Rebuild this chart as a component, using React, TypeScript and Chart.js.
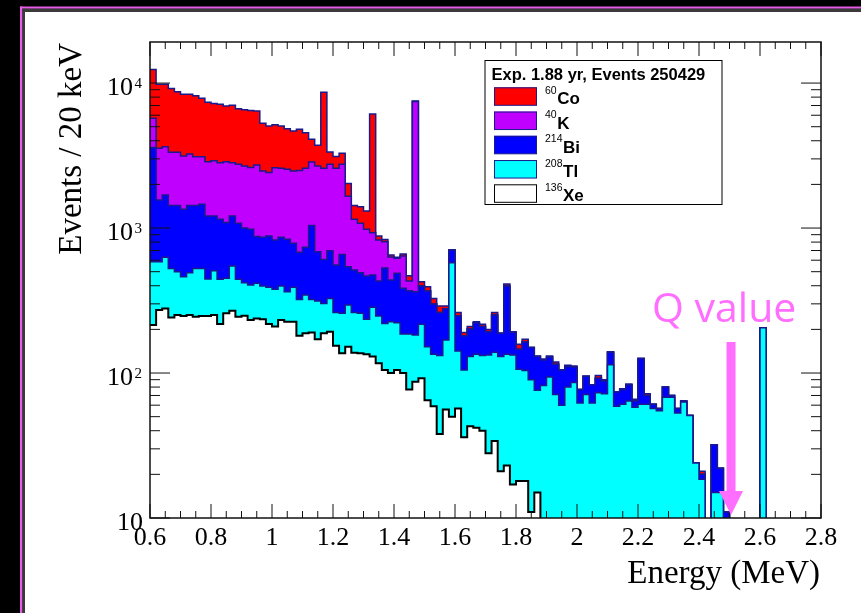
import React, { useEffect, useRef } from "react";
import { Chart, registerables } from "chart.js";

Chart.register(...registerables);

// ---------- axis ranges ----------
const E_MIN = 0.6;
const E_MAX = 2.8;
const BIN_WIDTH = 0.02;
const Y_MIN = 10;
const Y_MAX = 19200;

const xTickValues = [0.6, 0.8, 1.0, 1.2, 1.4, 1.6, 1.8, 2.0, 2.2, 2.4, 2.6, 2.8];
const xTickLabels = ["0.6", "0.8", "1", "1.2", "1.4", "1.6", "1.8", "2", "2.2", "2.4", "2.6", "2.8"];
const yDecades = [1, 2, 3, 4];
const xTitle = "Energy (MeV)";
const yTitle = "Events / 20 keV";

// ---------- legend ----------
const legendTitle = "Exp. 1.88 yr, Events 250429";
const legendMass = ["60", "40", "214", "208", "136"];
const legendElement = ["Co", "K", "Bi", "Tl", "Xe"];
const legendFill = ["#ff0000", "#c000ff", "#0000ff", "#00ffff", "#ffffff"];
const legendLine = ["#1a1a8c", "#1a1a8c", "#1a1a8c", "#1a1a8c", "#000000"];

const qLabel = "Q value";
const qArrowEnergy = 2.505; // MeV, where the arrow is drawn

// ---------- stacked histogram tops (events / 20 keV, bins from 0.6 MeV) ----------
// 60Co on top of 40K on top of 214Bi on top of 208Tl on top of 136Xe
const stackCo = [
  12430, 9800, 9800, 9190, 8710, 8360, 8360, 8170, 7850, 7360,
  7240, 7130, 6940, 7020, 6650, 6550, 6480, 6410, 5280, 5050,
  5160, 5050, 4840, 4670, 4800, 4540, 4090, 3720, 8630, 3340,
  3120, 3280, 2030, 1430, 1400, 1310, 6110, 881, 833, 651,
  628, 662, 469, 7520, 426, 394, 327, 290, 290, 705,
  261, 190, 209, 226, 217, 200, 261, 188, 411, 193,
  158, 171, 150, 131, 125, 131, 119, 105, 113, 112,
  77, 95, 83, 96, 90, 140, 74, 78, 84, 66,
  126, 72, 61, 57, 80, 70, 57, 64, 51, 24,
  21, 0, 32, 22, 11, 0, 0, 0, 0, 0,
  205, 0, 0, 0, 0, 0, 0, 0, 0, 0,
];
const stackK = [
  5710, 3545, 3640, 3330, 3330, 3140, 3240, 3100, 3100, 2870,
  2910, 2820, 2870, 2820, 2760, 2680, 2620, 2720, 2470, 2420,
  2610, 2580, 2540, 2470, 2490, 2580, 2850, 2680, 2580, 2760,
  2590, 2750, 1660, 1150, 1080, 980, 928, 826, 804, 631,
  618, 641, 431, 7450, 398, 368, 299, 261, 278, 705,
  248, 181, 201, 222, 209, 193, 251, 188, 398, 191,
  146, 164, 150, 130, 123, 129, 115, 105, 111, 110,
  77, 95, 83, 92, 88, 139, 74, 77, 83, 64,
  126, 70, 61, 57, 80, 70, 57, 64, 51, 24,
  20, 0, 32, 22, 11, 0, 0, 0, 0, 0,
  205, 0, 0, 0, 0, 0, 0, 0, 0, 0,
];
const stackBi = [
  3600, 1560, 1690, 1430, 1430, 1350, 1430, 1430, 1460, 1210,
  1210, 1150, 1090, 1210, 1080, 1000, 980, 874, 863, 881,
  826, 863, 836, 784, 680, 736, 1040, 686, 608, 697,
  556, 658, 541, 513, 492, 467, 474, 431, 530, 438,
  487, 384, 370, 364, 398, 368, 299, 261, 278, 705,
  248, 181, 201, 222, 209, 193, 251, 188, 398, 191,
  146, 164, 150, 130, 123, 129, 115, 105, 111, 110,
  77, 95, 83, 92, 88, 139, 74, 77, 83, 64,
  126, 70, 61, 57, 80, 70, 57, 64, 51, 24,
  20, 0, 32, 22, 11, 0, 0, 0, 0, 0,
  205, 0, 0, 0, 0, 0, 0, 0, 0, 0,
];
const stackTl = [
  586, 586, 628, 527, 499, 462, 492, 527, 527, 445,
  508, 443, 450, 547, 443, 420, 405, 416, 398, 390,
  378, 398, 364, 390, 322, 345, 322, 314, 302, 327,
  261, 258, 294, 261, 258, 235, 284, 247, 220, 226,
  222, 186, 186, 183, 217, 152, 135, 132, 169, 576,
  142, 105, 130, 135, 132, 133, 139, 130, 135, 133,
  106, 104, 90, 76, 82, 94, 71, 60, 80, 86,
  62, 71, 62, 73, 72, 114, 59, 61, 64, 58,
  61, 61, 57, 55, 68, 68, 53, 63, 51, 24,
  18.5, 0, 15, 15, 0, 0, 0, 0, 0, 0,
  205, 0, 0, 0, 0, 0, 0, 0, 0, 0,
];
const stackXe = [
  214, 272, 279, 242, 251, 247, 251, 244, 247, 247,
  251, 218, 258, 269, 244, 248, 232, 238, 235, 218,
  209, 232, 226, 226, 181, 188, 190, 171, 188, 193,
  154, 137, 152, 138, 137, 135, 130, 117, 105, 100,
  105, 100, 77, 87, 92, 65, 59, 38, 56, 50,
  57, 36, 43, 42, 40, 28, 34, 21, 23, 17,
  18, 18, 11, 15, 0, 0, 0, 0, 0, 0,
  0, 0, 0, 0, 0, 0, 0, 0, 0, 0,
  0, 0, 0, 0, 0, 0, 0, 0, 0, 0,
  0, 0, 0, 0, 0, 0, 0, 0, 0, 0,
  0, 0, 0, 0, 0, 0, 0, 0, 0, 0,
];

// empty bins are drawn below the axis floor (hidden by clipping)
const FLOOR = 1;

function toSteps(values: number[]) {
  const pts = values.map((v, i) => ({ x: E_MIN + i * BIN_WIDTH, y: v > 0 ? v : FLOOR }));
  const last = values[values.length - 1];
  pts.push({ x: E_MIN + values.length * BIN_WIDTH, y: last > 0 ? last : FLOOR });
  return pts;
}

const SERIF = '"Liberation Serif", "Times New Roman", serif';
const SANS = '"Liberation Sans", Arial, sans-serif';
const PINK = "#ff6eff";

const decorPlugin = {
  id: "decor",
  beforeDraw(chart: any) {
    const ctx = chart.ctx as CanvasRenderingContext2D;
    const W = chart.width;
    const H = chart.height;
    ctx.save();
    ctx.fillStyle = "#000";
    ctx.fillRect(0, 0, W, H);
    ctx.fillStyle = "#e65ce6";
    ctx.fillRect(20, 6.5, W - 20, 2.2);
    ctx.fillRect(20, 6.5, 2.5, H);
    ctx.fillStyle = "#3a3a3a";
    ctx.fillRect(22.5, 8.7, W, 3.3);
    ctx.fillRect(22.5, 8.7, 2.5, H);
    ctx.fillStyle = "#fff";
    ctx.fillRect(25, 12, W - 25, H - 12);
    ctx.restore();
  },
  afterDatasetsDraw(chart: any) {
    const ctx = chart.ctx as CanvasRenderingContext2D;
    const { left, right, top, bottom } = chart.chartArea;
    const xs = chart.scales.x;
    const ys = chart.scales.y;
    ctx.save();

    // frame
    ctx.strokeStyle = "#111";
    ctx.lineWidth = 1.5;
    ctx.strokeRect(left, top, right - left, bottom - top);

    // x ticks (major every 0.2, minor every 0.05)
    ctx.lineWidth = 1;
    ctx.beginPath();
    const nMinor = Math.round((E_MAX - E_MIN) / 0.05);
    for (let k = 0; k <= nMinor; k++) {
      const px = xs.getPixelForValue(E_MIN + k * 0.05);
      const len = k % 4 === 0 ? 14 : 7;
      ctx.moveTo(px, bottom);
      ctx.lineTo(px, bottom - len);
      ctx.moveTo(px, top);
      ctx.lineTo(px, top + len);
    }
    // y ticks (log)
    for (const d of yDecades) {
      for (let m = 1; m <= 9; m++) {
        const v = m * Math.pow(10, d);
        if (v > Y_MAX) break;
        const py = ys.getPixelForValue(v);
        const len = m === 1 ? 20 : 10;
        ctx.moveTo(left, py);
        ctx.lineTo(left + len, py);
        ctx.moveTo(right, py);
        ctx.lineTo(right - len, py);
      }
    }
    ctx.stroke();

    // x tick labels
    ctx.fillStyle = "#000";
    ctx.font = `26px ${SERIF}`;
    ctx.textAlign = "center";
    ctx.textBaseline = "alphabetic";
    xTickValues.forEach((v, i) => {
      ctx.fillText(xTickLabels[i], xs.getPixelForValue(v), bottom + 27);
    });

    // y tick labels 10^n
    yDecades.forEach((d) => {
      const py = ys.getPixelForValue(Math.pow(10, d));
      ctx.textAlign = "right";
      ctx.font = `26px ${SERIF}`;
      if (d === 1) {
        ctx.fillText("10", 143, py + 12);
      } else {
        ctx.fillText("10", 133, py + 12);
        ctx.textAlign = "left";
        ctx.font = `15px ${SERIF}`;
        ctx.fillText(String(d), 134.5, py + 4.5);
      }
    });

    // axis titles
    ctx.font = `33px ${SERIF}`;
    ctx.textAlign = "right";
    ctx.fillText(xTitle, right - 1, 583);
    ctx.save();
    ctx.translate(81, top + 1);
    ctx.rotate(-Math.PI / 2);
    ctx.textAlign = "right";
    ctx.fillText(yTitle, 0, 0);
    ctx.restore();

    // legend
    const lx = 485;
    const ly = 60.5;
    const lw = 237;
    const lh = 144;
    ctx.fillStyle = "#fff";
    ctx.fillRect(lx, ly, lw, lh);
    ctx.strokeStyle = "#000";
    ctx.lineWidth = 1;
    ctx.strokeRect(lx, ly, lw, lh);
    ctx.fillStyle = "#000";
    ctx.font = `bold 16.5px ${SANS}`;
    ctx.textAlign = "left";
    ctx.fillText(legendTitle, 491.5, 80);
    legendElement.forEach((el, i) => {
      const ry = 87.3 + i * 24.25;
      ctx.fillStyle = legendFill[i];
      ctx.fillRect(494, ry, 43, 18);
      ctx.strokeStyle = legendLine[i];
      ctx.lineWidth = 1;
      ctx.strokeRect(494.5, ry + 0.5, 42, 17.5);
      ctx.fillStyle = "#000";
      ctx.font = `10.5px ${SANS}`;
      ctx.fillText(legendMass[i], 545, ry + 6.5);
      const w = ctx.measureText(legendMass[i]).width;
      ctx.font = `bold 17px ${SANS}`;
      ctx.fillText(el, 545 + w + 0.5, ry + 17);
    });

    // Q value annotation
    const qx = xs.getPixelForValue(qArrowEnergy);
    ctx.fillStyle = PINK;
    ctx.font = `41px "Open Sans", ${SANS}`;
    ctx.textAlign = "left";
    ctx.fillText(qLabel, 652, 322);
    ctx.fillRect(qx - 4.5, 342, 9, 150);
    ctx.beginPath();
    ctx.moveTo(qx - 12, 491);
    ctx.lineTo(qx + 12, 491);
    ctx.lineTo(qx, 515);
    ctx.closePath();
    ctx.fill();

    ctx.restore();
  },
};

export default function App() {
  const canvasRef = useRef<HTMLCanvasElement | null>(null);

  useEffect(() => {
    const canvas = canvasRef.current;
    if (!canvas) return;
    const stacks = [stackXe, stackTl, stackBi, stackK, stackCo];
    const order = [4, 3, 2, 1, 0]; // legend index for each stack (Xe..Co)
    const datasets = stacks.map((vals, i) => {
      const li = order[i];
      return {
        label: legendMass[li] + legendElement[li],
        data: toSteps(vals),
        stepped: "before" as const,
        fill: "start" as const,
        backgroundColor: legendFill[li],
        borderColor: legendLine[li],
        borderWidth: li === 4 ? 2 : 1.5,
        pointRadius: 0,
        tension: 0,
        borderJoinStyle: "miter" as const,
      };
    });

    const chart = new Chart(canvas, {
      type: "line",
      data: { datasets },
      options: {
        responsive: false,
        animation: false,
        devicePixelRatio: 1,
        layout: { padding: { left: 150, top: 42, right: 40, bottom: 95 } },
        plugins: { legend: { display: false }, tooltip: { enabled: false }, title: { display: false } },
        scales: {
          x: { type: "linear", min: E_MIN, max: E_MAX, display: false, bounds: "data" },
          y: { type: "logarithmic", min: Y_MIN, max: Y_MAX, display: false, bounds: "data" },
        },
        events: [],
      },
      plugins: [decorPlugin],
    } as any);

    return () => chart.destroy();
  }, []);

  return (
    <div style={{ position: "fixed", left: 0, top: 0, width: 861, height: 613 }}>
      <canvas ref={canvasRef} width={861} height={613} style={{ display: "block", width: 861, height: 613 }} />
    </div>
  );
}
